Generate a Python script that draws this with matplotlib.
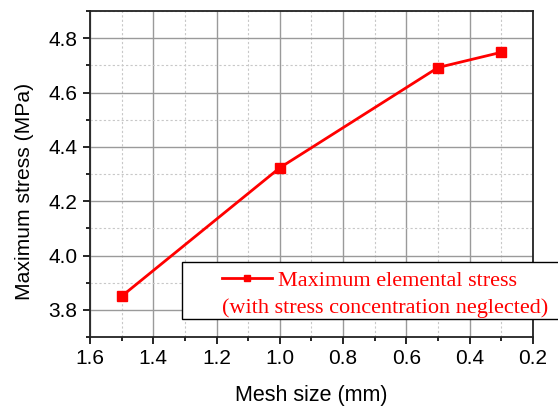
import numpy as np
import matplotlib
matplotlib.use('Agg')
import matplotlib.pyplot as plt
from matplotlib.patches import Rectangle
from matplotlib.ticker import MultipleLocator, FormatStrFormatter

# data
mesh_size = [1.5, 1.0, 0.5, 0.3]
max_stress = [3.85, 4.323, 4.692, 4.748]
label1 = 'Maximum elemental stress'
label2 = '(with stress concentration neglected)'

plt.rcParams['font.family'] = ['Liberation Sans', 'DejaVu Sans']

fig = plt.figure(figsize=(5.58, 4.09), dpi=100)
ax = fig.add_axes([90/558, 1-337/409, 443/558, 326/409])

ax.plot(mesh_size, max_stress, color='red', lw=2, marker='s', ms=6.5,
        label=label1)

ax.set_xlim(1.6, 0.2)
ax.set_ylim(3.7, 4.9)
ax.xaxis.set_major_locator(MultipleLocator(0.2))
ax.xaxis.set_minor_locator(MultipleLocator(0.1))
ax.yaxis.set_major_locator(MultipleLocator(0.2))
ax.yaxis.set_minor_locator(MultipleLocator(0.1))
ax.xaxis.set_major_formatter(FormatStrFormatter('%.1f'))
ax.yaxis.set_major_formatter(FormatStrFormatter('%.1f'))

ax.grid(which='major', color='#9a9a9a', lw=1, ls='-')
ax.grid(which='minor', color='#c8c8c8', lw=0.8, ls=(0, (2, 2)))
ax.set_axisbelow(True)

ax.tick_params(which='major', direction='out', length=5, width=1.2,
               labelsize=15, colors='black', pad=4)
ax.tick_params(which='minor', direction='out', length=3, width=1.2)
for s in ax.spines.values():
    s.set_linewidth(1.3)
    s.set_color('#222222')

ax.set_xlabel('Mesh size (mm)', fontsize=15.5, labelpad=12)
ax.set_ylabel('Maximum stress (MPa)', fontsize=15.2)
ax.yaxis.set_label_coords(-0.126, 0.445)

# legend box, handle and the two text lines
ax.add_patch(Rectangle((0.2077, 0.0552), 0.87, 0.175, transform=ax.transAxes,
                       facecolor='white', edgecolor='black', lw=1,
                       clip_on=False, zorder=5))
leg = ax.legend(loc='center left', bbox_to_anchor=(0.298, 0.1727),
                frameon=False, borderpad=0, borderaxespad=0,
                handlelength=2.25, handletextpad=0.27, markerscale=0.75,
                prop={'family': 'Liberation Serif', 'size': 16})
leg.set_zorder(6)
for t in leg.get_texts():
    t.set_color('red')
ax.text(0.298, 0.089, label2, transform=ax.transAxes, ha='left', va='center',
        color='red', family='Liberation Serif', fontsize=16, zorder=6,
        clip_on=False)

fig.savefig('out.png', dpi=100)
